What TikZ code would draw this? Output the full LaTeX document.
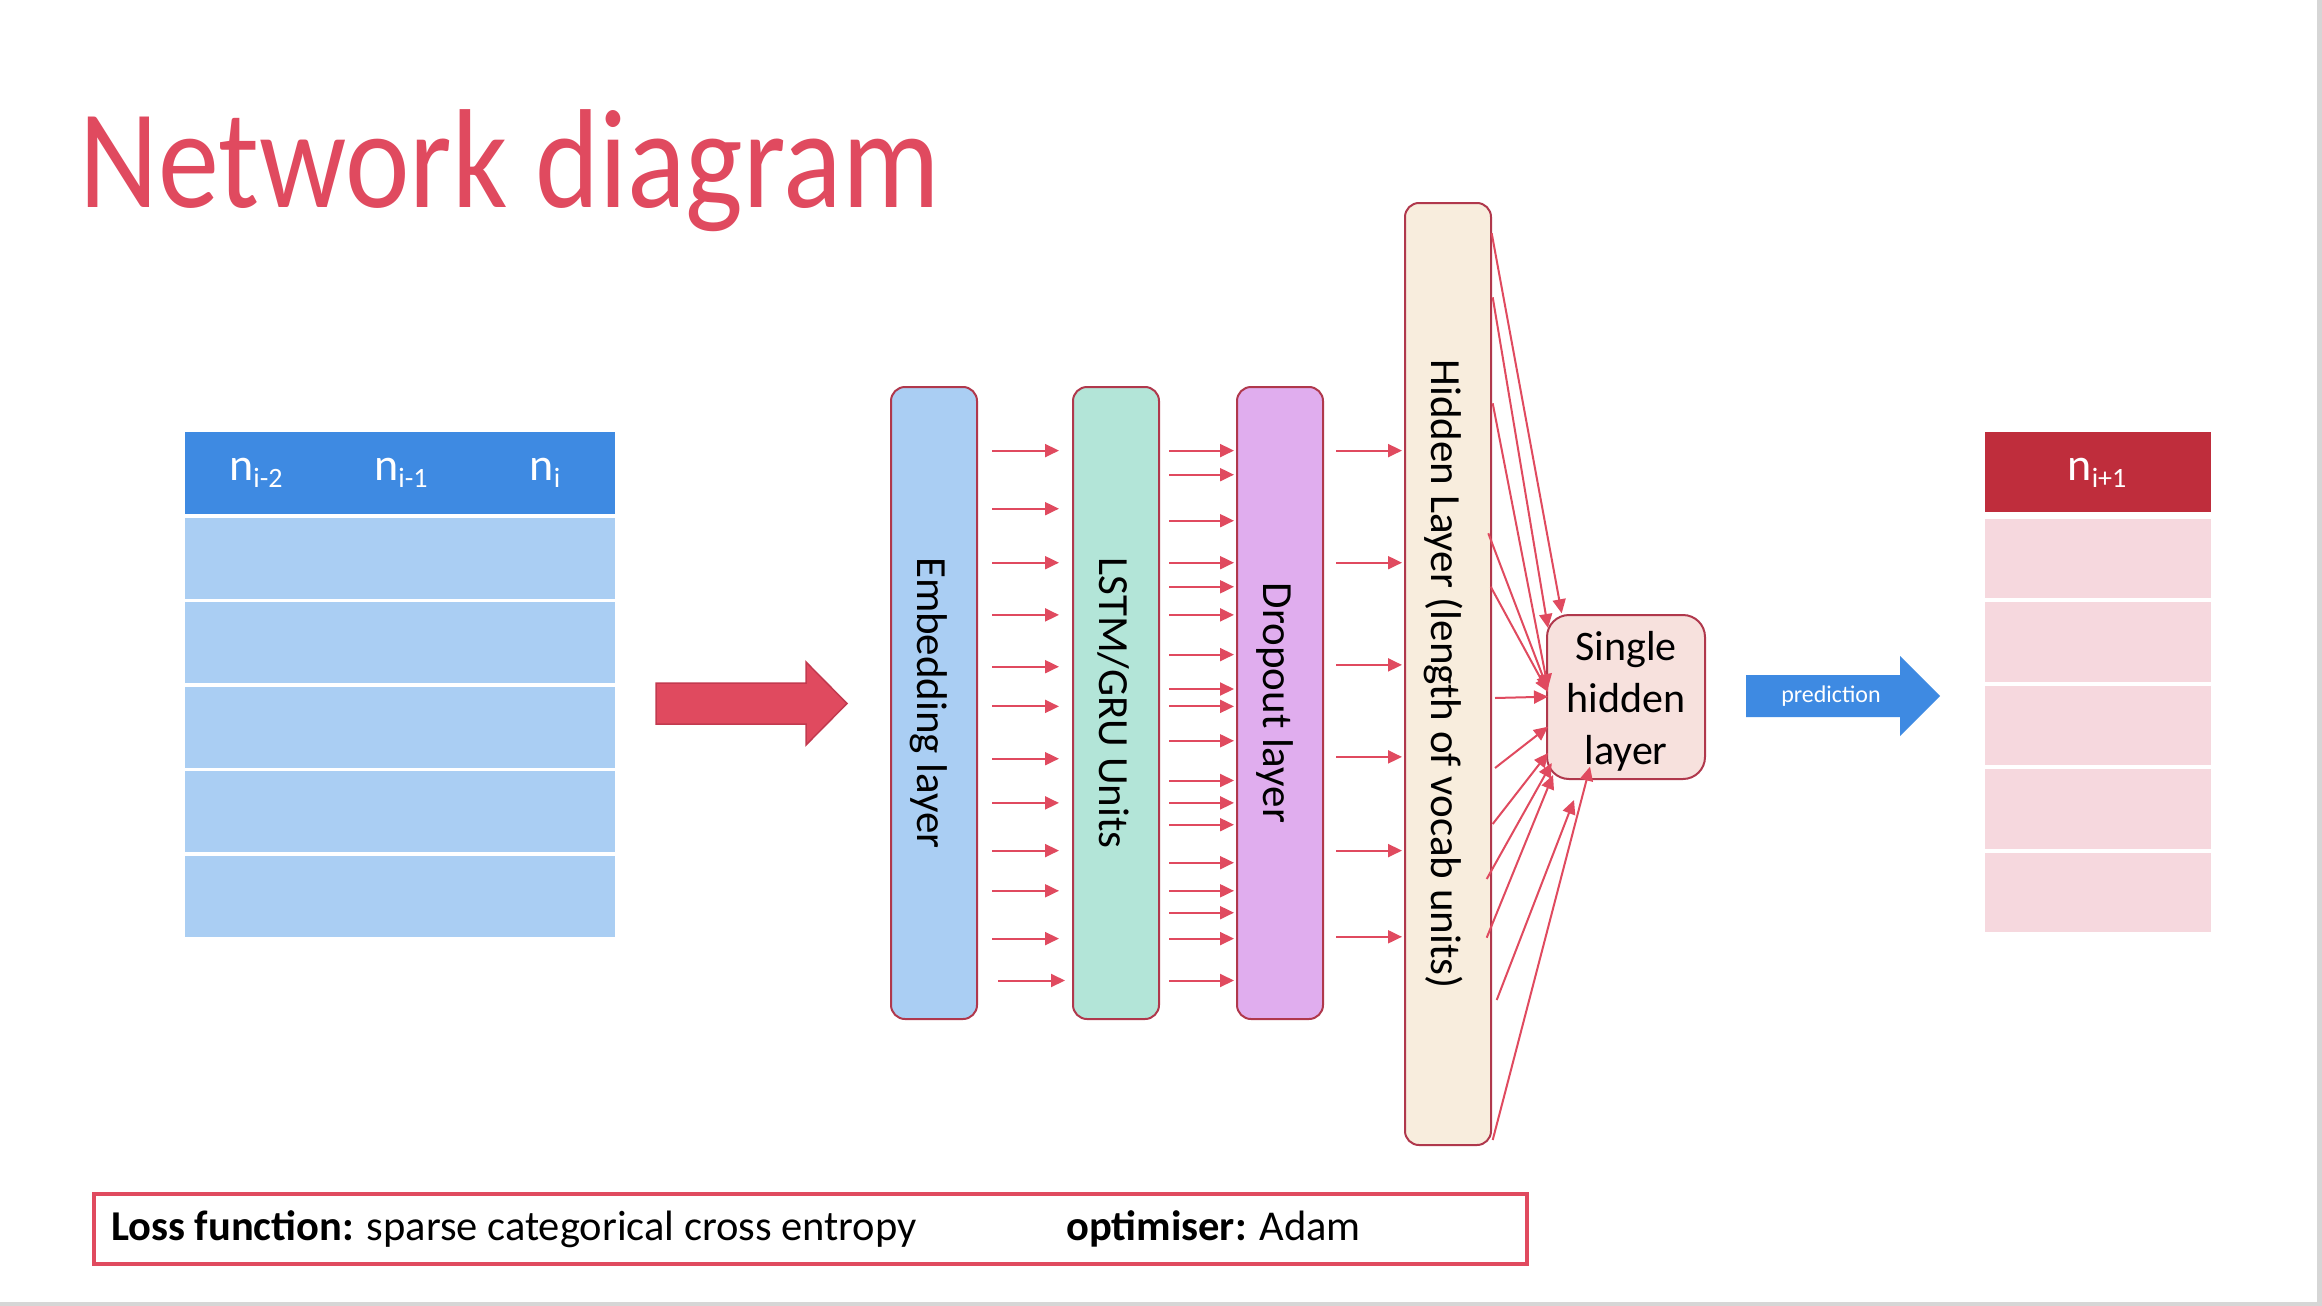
\documentclass[tikz,border=0pt]{standalone}
\usepackage{fontspec}
\setmainfont{Carlito}
\usetikzlibrary{arrows.meta,calc}

\definecolor{titlered}{HTML}{E04A5F}
\definecolor{arrred}{HTML}{E04A5F}
\definecolor{arredge}{HTML}{C23A4F}
\definecolor{edgered}{HTML}{B0384C}
\definecolor{embfill}{HTML}{AACEF3}
\definecolor{lstmfill}{HTML}{B3E5D8}
\definecolor{dropfill}{HTML}{E0ADEE}
\definecolor{hidfill}{HTML}{F8EDDD}
\definecolor{singfill}{HTML}{F7E1DD}
\definecolor{hdrblue}{HTML}{3E8AE2}
\definecolor{rowblue}{HTML}{AACEF3}
\definecolor{hdrred}{HTML}{BF2D3C}
\definecolor{rowpink}{HTML}{F6D8DE}
\definecolor{framegray}{HTML}{D6D6D6}

\newcommand{\mysub}[1]{\raisebox{-7.5pt}{\fontsize{28}{28}\selectfont #1}}

\begin{document}
\begin{tikzpicture}[x=1pt,y=-1pt,
  layerbox/.style={draw=edgered, line width=2pt, rounded corners=14pt, minimum width=86pt, inner sep=0pt},
  layertxt/.style={rotate=-90, anchor=base, font=\fontsize{43}{52}\selectfont, inner sep=0pt},
  arr/.style={draw=arrred, line width=2pt, -{Triangle[length=14pt,width=13pt]}},
  cell/.style={inner sep=0pt, minimum height=81pt},
  hdrtxt/.style={text=white, font=\fontsize{46}{46}\selectfont, anchor=base, inner sep=0pt},
  bottxt/.style={anchor=base west, font=\fontsize{42.5}{43}\selectfont, inner sep=0pt},
]
\path[use as bounding box, fill=white] (0,0) rectangle (2322,1306);
\fill[framegray] (2317,0) rectangle (2322,1306);
\fill[framegray] (0,1302) rectangle (2322,1306);

% title
\node[anchor=base west, inner sep=0pt, text=titlered, font=\fontsize{141}{141}\selectfont] (title) at (79,207) {\scalebox{0.866}[1]{Network diagram}};

% left table
\node[inner sep=0pt, fill=hdrblue, minimum width=430pt, minimum height=82pt] (lhdr) at (400,473) {};
\foreach \k in {0,...,4}
  \node[cell, fill=rowblue, minimum width=430pt] (lrow\k) at (400,558+84.5*\k) {};
\node[hdrtxt] (n1) at (256,480) {n\mysub{i-2}};
\node[hdrtxt] (n2) at (401,480) {n\mysub{i-1}};
\node[hdrtxt] (n3) at (545,480) {n\mysub{i}};

% big red arrow
\draw[fill=arrred, draw=arredge, line width=1.5pt] (656,683) -- (806,683) -- (806,662) -- (847,703.5) -- (806,745) -- (806,724) -- (656,724) -- cycle;

% layers
\node[layerbox, fill=embfill, minimum height=632pt] (emb) at (934,703) {};
\node[layerbox, fill=lstmfill, minimum height=632pt] (lstm) at (1116,703) {};
\node[layerbox, fill=dropfill, minimum height=632pt] (drop) at (1280,703) {};
\node[layerbox, fill=hidfill, minimum height=942pt] (hid) at (1448,674) {};
\node[layertxt] (embt) at (917,703) {Embedding layer};
\node[layertxt] (lstmt) at (1099,703) {LSTM/GRU Units};
\node[layertxt] (dropt) at (1263,703) {Dropout layer};
\node[layertxt] (hidt) at (1431,674) {Hidden Layer (length of vocab units)};

\node[draw=edgered, line width=2pt, fill=singfill, rounded corners=22pt, minimum width=158pt, minimum height=164pt, inner sep=0pt] (sing) at (1626,697) {};
\node[align=center, font=\fontsize{42}{52}\selectfont, inner sep=0pt] (singt) at (1626,701) {Single\\hidden\\layer};

% arrows embedding -> lstm
\foreach \y in {450.6,508.7,562.7,614.9,666.7,706.4,758.7,802.9,850.6,890.8,938.6} {
  \coordinate (yy) at (0,\y);
  \draw[arr] ([xshift=14pt]emb.east |- yy) -- ([xshift=-13pt]lstm.west |- yy);
}
\coordinate (yy) at (0,980.5);
\draw[arr] ([xshift=20pt]emb.east |- yy) -- ([xshift=-7pt]lstm.west |- yy);

% arrows lstm -> dropout
\foreach \y in {450.6,474.7,520.7,562.7,586.8,614.9,654.6,689.0,706.4,740.8,780.5,802.9,824.7,862.7,890.8,912.7,938.6,980.5} {
  \coordinate (yy) at (0,\y);
  \draw[arr] ([xshift=9pt]lstm.east |- yy) -- ([xshift=-2pt]drop.west |- yy);
}

% arrows dropout -> hidden
\foreach \y in {450.6,562.7,664.9,756.9,850.6,936.8} {
  \coordinate (yy) at (0,\y);
  \draw[arr] ([xshift=12pt]drop.east |- yy) -- ([xshift=-2pt]hid.west |- yy);
}

% arrows hidden -> single hidden layer
\foreach \sx/\sy/\ex/\ey [count=\i] in {
  1491.7/233.3/1561.7/613.3,
  1492.7/297.3/1548/628,
  1492.7/403.3/1548/688,
  1488.3/533.3/1548/690,
  1490.7/586.7/1548/692,
  1495/698/1548/696.7,
  1495/768/1548/726.7,
  1492.7/824/1548/753,
  1486.7/879/1551.7/763,
  1486.7/937.7/1553/775,
  1496.7/1000/1574/800,
  1492.7/1140/1590/766.7} {
  \coordinate (hs\i) at (\sx,\sy);
  \coordinate (se\i) at (\ex,\ey);
  \draw[arr] (hs\i) -- (se\i);
}

% prediction arrow
\draw[fill=hdrblue, draw=none] (1746,675) -- (1900,675) -- (1900,656) -- (1940,696) -- (1900,736) -- (1900,717) -- (1746,717) -- cycle;
\node[text=white, font=\fontsize{24}{24}\selectfont, inner sep=0pt] (pred) at (1831,696) {prediction};

% right table
\node[inner sep=0pt, fill=hdrred, minimum width=226pt, minimum height=80pt] (rhdr) at (2098,472) {};
\foreach \k in {0,...,4}
  \node[inner sep=0pt, fill=rowpink, minimum width=226pt, minimum height=79.5pt] (rrow\k) at (2098,558.25+83.5*\k) {};
\node[hdrtxt] (n4) at (2097,480) {n\mysub{i+1}};

% bottom box
\node[draw=arrred, line width=4pt, minimum width=1433pt, minimum height=70pt, inner sep=0pt, anchor=north west] (lossbox) at (92,1192) {};
\node[bottxt] (loss) at (111,1240) {\textbf{Loss function:} sparse categorical cross entropy};
\node[bottxt] (opt) at (1066,1240) {\textbf{optimiser:} Adam};
\end{tikzpicture}
\end{document}
